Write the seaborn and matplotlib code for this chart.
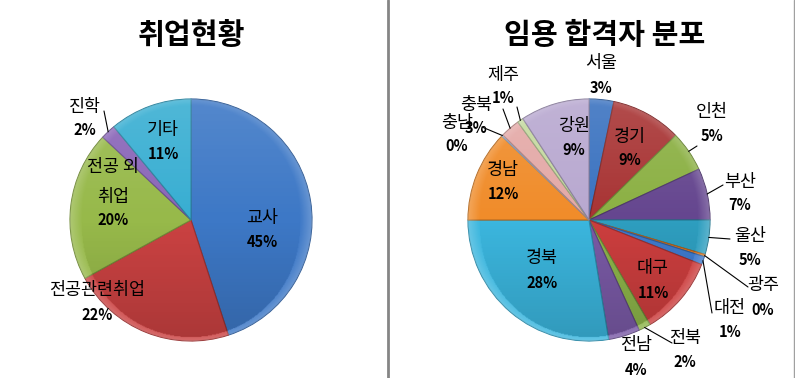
import numpy as np
import matplotlib
matplotlib.use("Agg")
import matplotlib.pyplot as plt
from matplotlib.lines import Line2D
from matplotlib.patches import Circle
from matplotlib.colors import to_rgb
import seaborn as sns

# ---------------- data ----------------
left_title = "취업현황"
left_categories = ["교사", "전공관련취업", "전공 외\n취업", "진학", "기타"]
left_values = [45, 22, 20, 2, 11]
left_colors = ["#3D78C6", "#CB4242", "#97B94A", "#8A66B8", "#38AED2"]

right_title = "임용 합격자 분포"
right_categories = ["서울", "경기", "인천", "부산", "울산", "광주", "대전", "대구",
                    "전북", "전남", "경북", "경남", "충남", "충북", "제주", "강원"]
right_values = [3.3, 9.4, 5.4, 6.9, 4.6, 0.3, 1.1, 10.6,
                1.6, 4.2, 27.6, 12.2, 0.2, 2.6, 0.8, 9.2]
right_colors = ["#3A72C0", "#A83434", "#8BB043", "#65468F", "#2E9EBF", "#E07B22",
                "#3E7ACC", "#CC3E3E", "#8DB54A", "#7A5AA6", "#3BB6DE", "#F08C2A",
                "#A8C2E8", "#E4A9A7", "#C5D9A0", "#B8A8D0"]

# ---------------- layout (pixel offsets from pie centre) ----------------
# (category x, category y, percent y) measured from pie centre, y downward
left_label_px = [(71, -2, 22), (-94, 70, 95), (-78, -38, 0),
                 (-106, -113, -90), (-28, -90, -66)]
left_leader_end = {3: (-87, -109)}

right_label_px = [(12, -157, -132), (41, -83, -60), (123, -108, -84), (151, -38, -15),
                  (161, 16, 40), (174, 65, 90), (141, 88, 112), (64, 48, 73),
                  (96, 118, 142), (47, 125, 150), (-47, 38, 63), (-86, -50, -26),
                  (-132, -97, -74), (-113, -115, -92), (-86, -145, -122), (-15, -94, -70)]
right_leader_end = {2: (108, -74), 3: (134, -35), 4: (141, 19),
                    5: (159, 67), 6: (123, 93), 8: (83, 123),
                    12: (-107, -93), 13: (-86, -111), 14: (-72, -113)}

sns.set_theme(style="white")
plt.rcParams["font.family"] = ["Noto Sans CJK KR", "DejaVu Sans"]

W, H = 795, 378
R = 121.0
fig = plt.figure(figsize=(W / 100, H / 100), dpi=100)
fig.patch.set_facecolor("white")


def darker(c, f=0.7):
    r, g, b = to_rgb(c)
    return (r * f, g * f, b * f)


def make_axes(cx, cy, half=185):
    return fig.add_axes([(cx - half) / W, (H - cy - half) / H, 2 * half / W, 2 * half / H])


def shade(ax):
    n = 300
    yy, xx = np.mgrid[-1:1:n * 1j, -1:1:n * 1j]
    rr = np.sqrt(xx ** 2 + yy ** 2)
    img = np.zeros((n, n, 4))
    # vertical light-to-dark gradient
    t = (1 - yy) / 2  # 0 at top (image row 0 is y=-1 with origin lower)
    dark = np.clip((0.5 - yy) * 0.0, 0, 1)
    img[..., :3] = 0.0
    alpha = np.clip(0.16 * (-yy), 0, 0.2)  # darker toward bottom
    # rim highlight
    rim = np.clip((rr - 0.90) / 0.10, 0, 1) * 0.22
    light = np.clip(0.12 * yy, 0, 0.15)
    a_white = np.maximum(rim, light)
    col = np.where(a_white[..., None] > alpha[..., None], 1.0, 0.0)
    img[..., :3] = col
    img[..., 3] = np.maximum(a_white, alpha)
    im = ax.imshow(img, extent=(-1, 1, -1, 1), origin="lower", zorder=3,
                   interpolation="bilinear")
    im.set_clip_path(Circle((0, 0), 1.0, transform=ax.transData))


def draw_pie(ax, values, colors, cats, label_px, leader_end, title, title_x):
    half = 185
    wedges, _ = ax.pie(values, colors=colors, startangle=90, counterclock=False,
                       radius=1.0, wedgeprops=dict(linewidth=0.8))
    for w, c in zip(wedges, colors):
        w.set_edgecolor(darker(c, 0.75))
    shade(ax)
    total = float(sum(values))
    lim = half / R
    ax.set_xlim(-lim, lim)
    ax.set_ylim(-lim, lim)
    ax.set_aspect("equal")
    ax.axis("off")
    for i, (w, cat, p) in enumerate(zip(wedges, cats, label_px)):
        pct = f"{round(values[i] / total * 100):.0f}%"
        ax.text(p[0] / R, -p[1] / R, cat, ha="center", va="center", fontsize=12.5,
                color="black", linespacing=1.85, clip_on=False, zorder=5)
        ax.text(p[0] / R, -p[2] / R, pct, ha="center", va="center", fontsize=10.5,
                fontweight="bold", color="black", clip_on=False, zorder=5)
        if i in leader_end:
            mid = np.deg2rad((w.theta1 + w.theta2) / 2)
            sx, sy = np.cos(mid), np.sin(mid)
            ex, ey = leader_end[i]
            ax.plot([sx, ex / R], [sy, -ey / R], color="black", lw=0.8,
                    clip_on=False, zorder=4)
    fig.text(title_x / W, 1 - 35 / H, title, ha="center", va="center",
             fontsize=21, fontweight="bold", color="black")


axL = make_axes(191, 220)
draw_pie(axL, left_values, left_colors, left_categories, left_label_px,
         left_leader_end, left_title, 191)
axR = make_axes(589, 220)
draw_pie(axR, right_values, right_colors, right_categories, right_label_px,
         right_leader_end, right_title, 605)

fig.add_artist(Line2D([387.5 / W] * 2, [0, 1], color="#858585", lw=2))
fig.add_artist(Line2D([793.5 / W] * 2, [0, 1], color="#a0a0a0", lw=1))

fig.savefig("out.png", dpi=100)
